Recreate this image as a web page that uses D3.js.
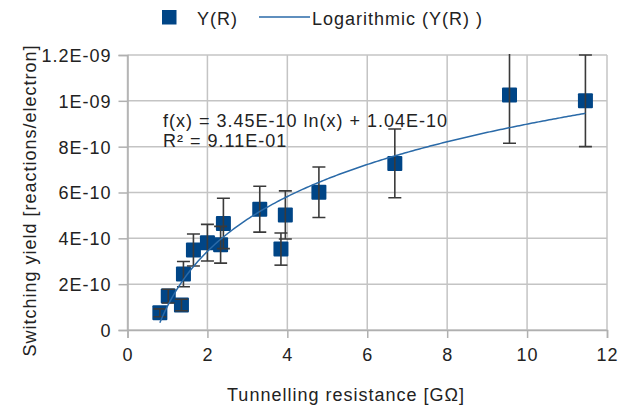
<!DOCTYPE html>
<html>
<head>
<meta charset="utf-8">
<script src="https://cdn.jsdelivr.net/npm/d3@7"></script>
<style>
  html, body { margin: 0; padding: 0; background: #fff; }
  svg text { font-family: "Liberation Sans", Arial, sans-serif; font-size: 18px; fill: #222; letter-spacing: 1px; }
</style>
</head>
<body>
<svg id="chart" width="619" height="409"></svg>
<script>
// Tunnelling resistance [GΩ]
const resistance = [0.81, 1.02, 1.35, 1.40, 1.65, 2.00, 2.33, 2.40, 3.31, 3.84, 3.95, 4.79, 6.69, 9.56, 11.46];
// Switching yield [reactions/electron]
const yieldValues = [0.75e-10, 1.48e-10, 1.09e-10, 2.44e-10, 3.49e-10, 3.81e-10, 3.72e-10, 4.65e-10, 5.27e-10, 3.53e-10, 5.02e-10, 6.01e-10, 7.27e-10, 10.25e-10, 10.0e-10];
// Symmetric error of each yield
const yieldErrors = [0.17e-10, 0.3e-10, 0.25e-10, 0.55e-10, 0.7e-10, 0.8e-10, 0.8e-10, 1.1e-10, 1.0e-10, 0.7e-10, 1.05e-10, 1.1e-10, 1.5e-10, 2.1e-10, 2.0e-10];

// Logarithmic trend: f(x) = a ln(x) + b
const trendA = 3.45e-10;
const trendB = 1.04e-10;
const rSquared = "9.11E-01";

const xTicks = [0, 2, 4, 6, 8, 10, 12];
const yTicks = [0, 2e-10, 4e-10, 6e-10, 8e-10, 1e-9, 1.2e-9];
const yTickLabels = ["0", "2E-10", "4E-10", "6E-10", "8E-10", "1E-09", "1.2E-09"];

const svg = d3.select("#chart");
const plotLeft = 127.5, plotRight = 607, plotTop = 55, plotBottom = 330;

const x = d3.scaleLinear().domain([0, 12]).range([plotLeft, plotRight]);
const y = d3.scaleLinear().domain([0, 1.2e-9]).range([plotBottom, plotTop]);

const gridColor = "#c4c4c4";

// grid
svg.append("g").selectAll("line").data(xTicks).join("line")
  .attr("x1", d => x(d)).attr("x2", d => x(d))
  .attr("y1", plotTop).attr("y2", plotBottom)
  .attr("stroke", gridColor).attr("stroke-width", 1.5);
svg.append("g").selectAll("line").data(yTicks).join("line")
  .attr("x1", plotLeft).attr("x2", plotRight)
  .attr("y1", d => y(d)).attr("y2", d => y(d))
  .attr("stroke", gridColor).attr("stroke-width", 1.5);

// axes
const yAxis = d3.axisLeft(y).tickValues(yTicks).tickSize(9).tickFormat((d, i) => yTickLabels[i]);
const gy = svg.append("g").attr("transform", `translate(${plotLeft},0)`).call(yAxis);
const xAxis = d3.axisBottom(x).tickValues(xTicks).tickSize(8).tickFormat(d3.format("d"));
const gx = svg.append("g").attr("transform", `translate(0,${plotBottom})`).call(xAxis);
[gx, gy].forEach(g => {
  g.attr("font-family", null).attr("font-size", null);
  g.select(".domain").attr("stroke", "#b0b0b0").attr("stroke-width", 1.5);
  g.selectAll(".tick line").attr("stroke", "#b0b0b0").attr("stroke-width", 1.5);
  g.selectAll(".tick text").attr("fill", "#222");
});
gy.selectAll(".tick text").attr("x", -16).attr("dy", "0.36em");
gx.selectAll(".tick text").attr("y", 18).attr("dy", "0.71em");

// clip to plot area
svg.append("clipPath").attr("id", "plot-clip")
  .append("rect").attr("x", plotLeft).attr("y", plotTop - 1)
  .attr("width", plotRight - plotLeft + 2).attr("height", plotBottom - plotTop + 2);

const plot = svg.append("g").attr("clip-path", "url(#plot-clip)");
const points = resistance.map((r, i) => ({ r, v: yieldValues[i], e: yieldErrors[i] }));

// markers
const ms = 15;
plot.append("g").selectAll("rect").data(points).join("rect")
  .attr("x", d => x(d.r) - ms / 2).attr("y", d => y(d.v) - ms / 2)
  .attr("width", ms).attr("height", ms).attr("rx", 1)
  .attr("fill", "#004586");

// error bars
const cap = 6.5;
const eb = plot.append("g").attr("stroke", "#3a3a3a").attr("stroke-width", 1.6);
eb.selectAll("line.v").data(points).join("line").attr("class", "v")
  .attr("x1", d => x(d.r)).attr("x2", d => x(d.r))
  .attr("y1", d => y(d.v + d.e)).attr("y2", d => y(d.v - d.e));
eb.selectAll("line.t").data(points.filter(d => d.v + d.e <= 1.2e-9 + 1e-13)).join("line").attr("class", "t")
  .attr("x1", d => x(d.r) - cap).attr("x2", d => x(d.r) + cap)
  .attr("y1", d => y(d.v + d.e)).attr("y2", d => y(d.v + d.e));
eb.selectAll("line.b").data(points).join("line").attr("class", "b")
  .attr("x1", d => x(d.r) - cap).attr("x2", d => x(d.r) + cap)
  .attr("y1", d => y(d.v - d.e)).attr("y2", d => y(d.v - d.e));

// logarithmic trend line over the data range
const [rMin, rMax] = d3.extent(resistance);
const trendPts = d3.range(0, 201).map(i => rMin + (rMax - rMin) * i / 200);
plot.append("path")
  .datum(trendPts)
  .attr("fill", "none").attr("stroke", "#2a6aa8").attr("stroke-width", 1.5)
  .attr("d", d3.line().x(d => x(d)).y(d => y(trendA * Math.log(d) + trendB)));

// trend equation
const fmtE = v => {
  const [m, e] = v.toExponential(2).split("e");
  const ex = parseInt(e, 10);
  return `${m}E${ex < 0 ? "-" : "+"}${String(Math.abs(ex)).padStart(2, "0")}`;
};
svg.append("text").attr("x", 163).attr("y", 126.5)
  .text(`f(x) = ${fmtE(trendA)} ln(x) + ${fmtE(trendB)}`);
svg.append("text").attr("x", 163).attr("y", 147)
  .text(`R² = ${rSquared}`);

// axis titles
svg.append("text").attr("x", 346).attr("y", 401).attr("text-anchor", "middle")
  .text("Tunnelling resistance [GΩ]");
svg.append("text").attr("transform", "translate(36,200.5) rotate(-90)").attr("text-anchor", "middle")
  .text("Switching yield [reactions/electron]");

// legend
const lg = svg.append("g");
lg.append("rect").attr("x", 162).attr("y", 10).attr("width", 14.5).attr("height", 14.5).attr("fill", "#004586");
lg.append("text").attr("x", 197).attr("y", 24.5).text("Y(R)");
lg.append("line").attr("x1", 259).attr("x2", 310).attr("y1", 17).attr("y2", 17)
  .attr("stroke", "#2a6aa8").attr("stroke-width", 1.5);
lg.append("text").attr("x", 312).attr("y", 24.5).text("Logarithmic (Y(R) )");
</script>
</body>
</html>
